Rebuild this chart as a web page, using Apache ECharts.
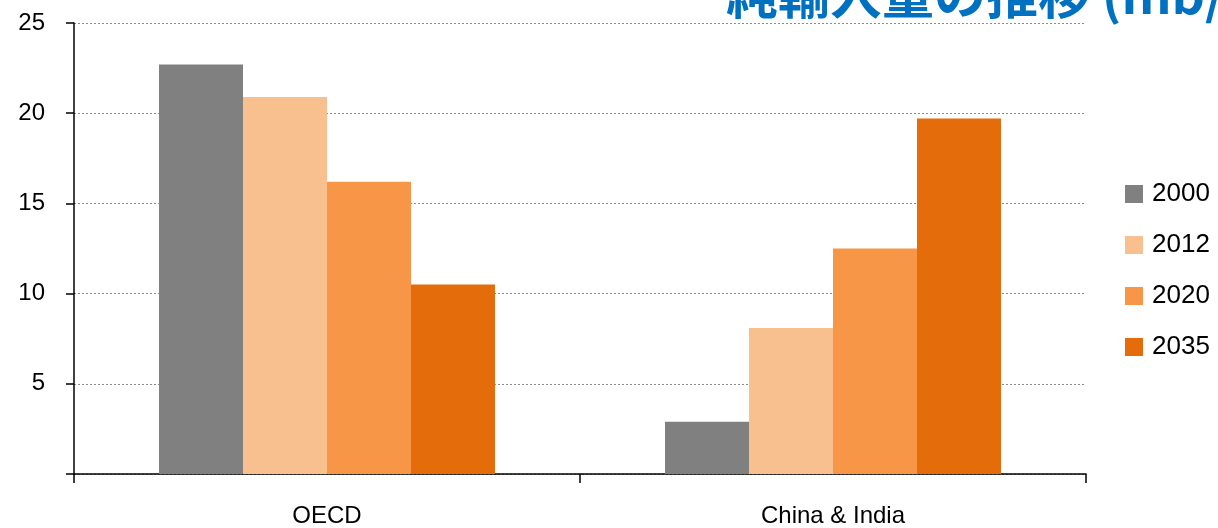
<!DOCTYPE html>
<html>
<head>
<meta charset="utf-8">
<script src="https://cdn.jsdelivr.net/npm/echarts@6/dist/echarts.min.js"></script>
<style>
  html, body { margin: 0; padding: 0; background: #ffffff; }
  #chart { width: 1218px; height: 528px; }
</style>
</head>
<body>
<div id="chart"></div>
<script>
// Net import volumes by region (mb/d)
const categories = ['OECD', 'China & India'];
const years = ['2000', '2012', '2020', '2035'];
const values2000 = [22.7, 2.9];
const values2012 = [20.9, 8.1];
const values2020 = [16.2, 12.5];
const values2035 = [10.5, 19.7];
const yTicks = [0, 5, 10, 15, 20, 25];
const colors = ['#808080', '#F9C08F', '#F79646', '#E46C0A'];
const titleText = '純輸入量の推移 (mb/d)';

const seriesValues = [values2000, values2012, values2020, values2035];
const labelFont = '"Liberation Sans Narrow", "Liberation Sans", sans-serif';

const chart = echarts.init(document.getElementById('chart'), null, { renderer: 'canvas' });

chart.setOption({
  animation: false,
  color: colors,
  title: {
    text: titleText,
    left: 721,
    top: -37,
    textStyle: {
      color: '#0070C0',
      fontSize: 52,
      fontWeight: 'bold',
      fontFamily: '"Noto Sans CJK JP", sans-serif'
    }
  },
  grid: { left: 74, right: 132, top: 23, bottom: 52, containLabel: false },
  legend: {
    orient: 'vertical',
    left: 1125,
    top: 181,
    padding: 0,
    itemWidth: 18,
    itemHeight: 18,
    itemGap: 25,
    icon: 'rect',
    textStyle: { fontSize: 26, color: '#000', fontFamily: labelFont, padding: [0, 0, 0, 4] },
    data: years
  },
  xAxis: {
    type: 'category',
    data: categories,
    axisLine: { lineStyle: { color: '#000', width: 1.5 } },
    axisTick: { show: true, length: 9, lineStyle: { color: '#000', width: 1.5 } },
    axisLabel: { color: '#000', fontSize: 24, margin: 30, fontFamily: labelFont }
  },
  yAxis: {
    type: 'value',
    min: yTicks[0],
    max: yTicks[yTicks.length - 1],
    interval: yTicks[1] - yTicks[0],
    axisLine: { show: true, lineStyle: { color: '#000', width: 1.5 } },
    axisTick: { show: true, inside: false, length: 8, lineStyle: { color: '#000', width: 1.5 } },
    axisLabel: {
      color: '#000', fontSize: 24, margin: 29, fontFamily: labelFont,
      formatter: v => (v === 0 ? '' : String(v))
    },
    splitLine: { show: true, lineStyle: { color: '#8c8c8c', type: [2, 2], width: 1 } }
  },
  series: years.map((y, i) => ({
    name: y,
    type: 'bar',
    data: seriesValues[i],
    barGap: '0%',
    barCategoryGap: '33.6%',
    itemStyle: { color: colors[i] }
  }))
});
</script>
</body>
</html>
